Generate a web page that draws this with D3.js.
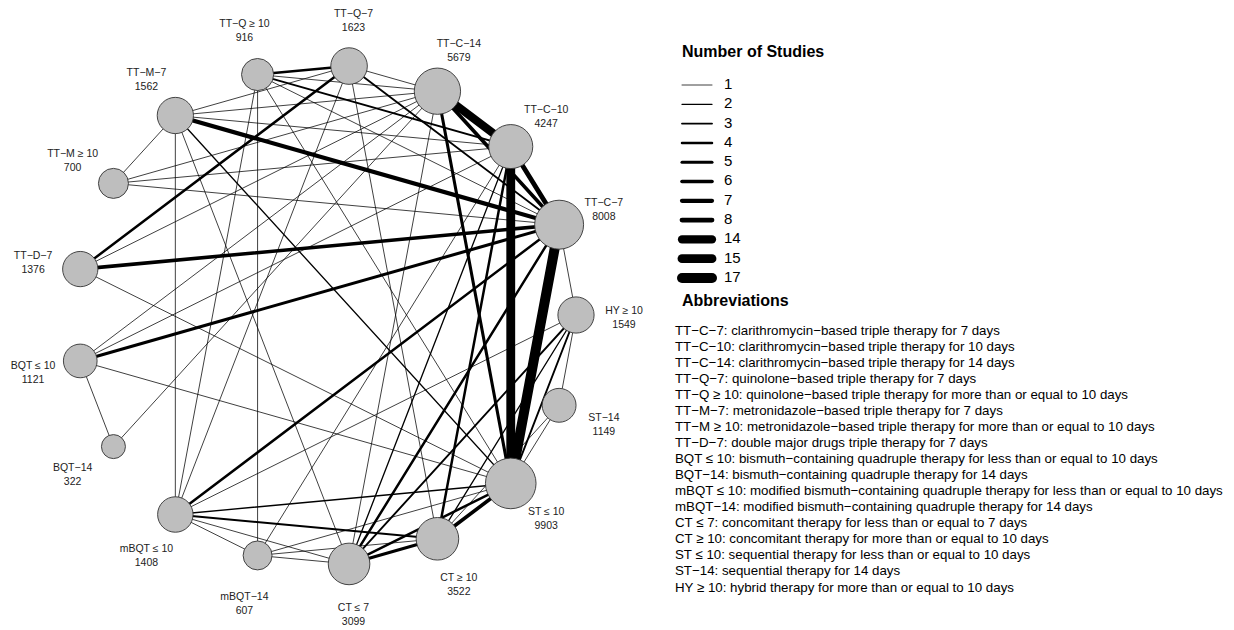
<!DOCTYPE html>
<html>
<head>
<meta charset="utf-8">
<script src="https://cdn.jsdelivr.net/npm/d3@7"></script>
<style>
  html, body { margin: 0; padding: 0; background: #fff; }
  svg { display: block; font-family: "Liberation Sans", Arial, Helvetica, sans-serif; }
</style>
</head>
<body>
<svg id="chart" width="1234" height="630"></svg>
<script>
// ---------------- DATA ----------------
// treatments in counter-clockwise order starting at 3 o'clock
const treatmentIds = ["HY","C7","C10","C14","Q7","Q10","M7","M10","D7","B10","B14","mB10","mB14","CT7","CT10","ST10","ST14"];
const treatmentLabels = ["HY \u2265 10","TT\u2212C\u22127","TT\u2212C\u221210","TT\u2212C\u221214","TT\u2212Q\u22127","TT\u2212Q \u2265 10","TT\u2212M\u22127","TT\u2212M \u2265 10","TT\u2212D\u22127","BQT \u2264 10","BQT\u221214","mBQT \u2264 10","mBQT\u221214","CT \u2264 7","CT \u2265 10","ST \u2264 10","ST\u221214"];
const sampleSizes = [1549, 8008, 4247, 5679, 1623, 916, 1562, 700, 1376, 1121, 322, 1408, 607, 3099, 3522, 9903, 1149];

// direct comparisons: [treatment A, treatment B, number of studies]
const comparisons = [
  ["C7","ST10",17], ["C7","C10",8], ["C7","C14",6], ["C7","M7",7], ["C7","D7",6],
  ["C7","B10",5], ["C7","mB10",4], ["C7","CT7",4], ["C7","Q7",3], ["C7","M10",1],
  ["C7","Q10",1], ["C7","HY",1],
  ["C10","ST10",15], ["C10","C14",14], ["C10","Q10",3], ["C10","CT10",4], ["C10","M7",1],
  ["C10","M10",1], ["C10","B10",1], ["C10","mB14",1], ["C10","CT7",2],
  ["C14","ST10",5], ["C14","Q7",1], ["C14","M7",1], ["C14","M10",1], ["C14","D7",1],
  ["C14","B10",1], ["C14","B14",1], ["C14","CT7",1], ["C14","Q10",1],
  ["Q7","Q10",4], ["Q7","D7",4], ["Q7","M7",1], ["Q7","mB10",1], ["Q7","CT10",1],
  ["Q10","mB14",1], ["Q10","mB10",1], ["Q10","ST10",1],
  ["M7","M10",1], ["M7","mB10",1], ["M7","CT7",1], ["M7","ST10",2],
  ["D7","ST10",1],
  ["B10","B14",1], ["B10","ST10",1],
  ["mB10","ST10",2], ["mB10","CT10",3], ["mB10","CT7",1], ["mB10","mB14",1], ["mB10","HY",1],
  ["mB14","ST10",1], ["mB14","CT10",1], ["mB14","CT7",1],
  ["CT7","CT10",5], ["CT7","ST10",4], ["CT7","HY",3],
  ["CT10","ST10",6], ["CT10","HY",2], ["CT10","ST14",1],
  ["HY","ST10",3], ["HY","ST14",1], ["ST14","ST10",1]
];

const legendStudies = [1, 2, 3, 4, 5, 6, 7, 8, 14, 15, 17];

const abbreviations = [
  "TT\u2212C\u22127: clarithromycin\u2212based triple therapy for 7 days",
  "TT\u2212C\u221210: clarithromycin\u2212based triple therapy for 10 days",
  "TT\u2212C\u221214: clarithromycin\u2212based triple therapy for 14 days",
  "TT\u2212Q\u22127: quinolone\u2212based triple therapy for 7 days",
  "TT\u2212Q \u2265 10: quinolone\u2212based triple therapy for more than or equal to 10 days",
  "TT\u2212M\u22127: metronidazole\u2212based triple therapy for 7 days",
  "TT\u2212M \u2265 10: metronidazole\u2212based triple therapy for more than or equal to 10 days",
  "TT\u2212D\u22127: double major drugs triple therapy for 7 days",
  "BQT \u2264 10: bismuth\u2212containing quadruple therapy for less than or equal to 10 days",
  "BQT\u221214: bismuth\u2212containing quadruple therapy for 14 days",
  "mBQT \u2264 10: modified bismuth\u2212containing quadruple therapy for less than or equal to 10 days",
  "mBQT\u221214: modified bismuth\u2212containing quadruple therapy for 14 days",
  "CT \u2264 7: concomitant therapy for less than or equal to 7 days",
  "CT \u2265 10: concomitant therapy for more than or equal to 10 days",
  "ST \u2264 10: sequential therapy for less than or equal to 10 days",
  "ST\u221214: sequential therapy for 14 days",
  "HY \u2265 10: hybrid therapy for more than or equal to 10 days"
];

// ---------------- LAYOUT ----------------
const svg = d3.select("#chart");
const cx = 326, cy = 315, R = 250;

const angle = d3.scaleLinear().domain([0, treatmentIds.length]).range([0, 2 * Math.PI]);
const nodeR = d3.scaleLog().domain([322, 9903]).range([12, 25.3]);
const edgeW = d3.scaleLinear().domain([1, 17]).range([0.75, 10]);

const nodes = treatmentIds.map((id, i) => {
  const a = angle(i);
  return { id, label: treatmentLabels[i], n: sampleSizes[i], a,
           x: cx + R * Math.cos(a), y: cy - R * Math.sin(a) };
});
const byId = new Map(nodes.map(d => [d.id, d]));

// edges
svg.append("g").selectAll("line")
  .data(comparisons.slice().sort((p, q) => p[2] - q[2]))
  .join("line")
  .attr("x1", d => byId.get(d[0]).x).attr("y1", d => byId.get(d[0]).y)
  .attr("x2", d => byId.get(d[1]).x).attr("y2", d => byId.get(d[1]).y)
  .attr("stroke", "#000")
  .attr("stroke-width", d => edgeW(d[2]))
  .attr("stroke-linecap", "round");

// nodes
svg.append("g").selectAll("circle")
  .data(nodes)
  .join("circle")
  .attr("cx", d => d.x).attr("cy", d => d.y)
  .attr("r", d => nodeR(d.n))
  .attr("fill", "#bebebe")
  .attr("stroke", "#333")
  .attr("stroke-width", 0.9);

// node labels
const labelR = 298;
const lab = svg.append("g").attr("font-size", "10.5px").attr("fill", "#222").attr("text-anchor", "middle");
nodes.forEach(d => {
  const lx = cx + labelR * Math.cos(d.a);
  const ly = cy - labelR * Math.sin(d.a) + 3;
  const t = lab.append("text").attr("x", lx).attr("y", ly);
  t.append("tspan").attr("x", lx).attr("y", ly - 7).attr("dominant-baseline", "middle").text(d.label);
  t.append("tspan").attr("x", lx).attr("y", ly + 7).attr("dominant-baseline", "middle").text(d.n);
});

// ---------------- LEGEND ----------------
const lg = svg.append("g");
lg.append("text").attr("x", 682).attr("y", 53).attr("dominant-baseline", "middle")
  .attr("font-size", "16px").attr("font-weight", "bold").attr("fill", "#000").text("Number of Studies");

const legY = d3.scalePoint().domain(legendStudies).range([85, 278]);
const li = lg.selectAll("g.item").data(legendStudies).join("g").attr("class", "item");
li.append("line")
  .attr("x1", 682).attr("x2", 712)
  .attr("y1", d => legY(d)).attr("y2", d => legY(d))
  .attr("stroke", "#000").attr("stroke-width", d => edgeW(d)).attr("stroke-linecap", "round");
li.append("text").attr("x", 724).attr("y", d => legY(d)).attr("dominant-baseline", "middle")
  .attr("font-size", "15px").attr("fill", "#000").text(d => d);

lg.append("text").attr("x", 682).attr("y", 302).attr("dominant-baseline", "middle")
  .attr("font-size", "16px").attr("font-weight", "bold").attr("fill", "#000").text("Abbreviations");

const abY = d3.scalePoint().domain(d3.range(abbreviations.length)).range([331, 588]);
lg.selectAll("text.abbr").data(abbreviations).join("text").attr("class", "abbr")
  .attr("x", 675).attr("y", (d, i) => abY(i)).attr("dominant-baseline", "middle")
  .attr("font-size", "13.3px").attr("fill", "#000").text(d => d);
</script>
</body>
</html>
